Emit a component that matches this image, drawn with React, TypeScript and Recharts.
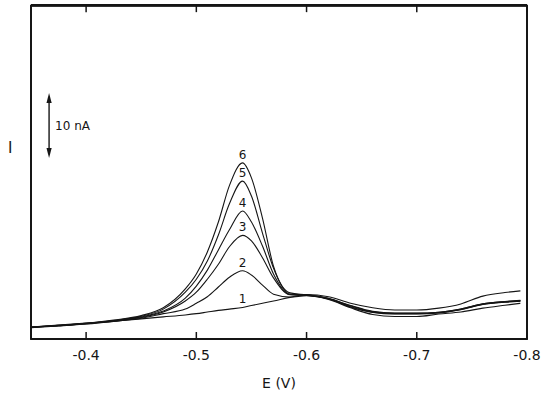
import React from "react";
import { LineChart, Line, XAxis, YAxis, ReferenceLine, ReferenceArea, ReferenceDot, CartesianGrid, Label } from "recharts";

// Potential (V) sample points
const potentials = [
  -0.35, -0.375, -0.4, -0.425, -0.45, -0.47, -0.49, -0.5, -0.51, -0.52, -0.53, -0.542, -0.55, -0.56,
  -0.57, -0.585, -0.6, -0.62, -0.64, -0.66, -0.68, -0.7, -0.72, -0.74, -0.76, -0.78, -0.794,
];

// Currents (nA, relative to plot floor) for curves 1..6
const curve1 = [
  1.85, 2.15, 2.45, 2.75, 3.1, 3.4, 3.7, 3.9, 4.15, 4.4, 4.6, 4.85, 5.15, 5.5, 5.85, 6.4, 6.85, 6.5, 5.5,
  4.8, 4.46, 4.46, 4.75, 5.4, 6.6, 7.15, 7.4,
];
const curve2 = [
  1.8, 2.05, 2.35, 2.7, 3.2, 3.9, 4.6, 5.5, 6.5, 8.0, 9.5, 10.5, 9.85, 8.3, 6.9, 6.46, 6.65, 6.1, 4.8,
  3.77, 3.46, 3.46, 3.85, 4.15, 4.75, 5.2, 5.5,
];
const curve3 = [
  1.75, 2.0, 2.3, 2.75, 3.3, 4.15, 5.85, 7.2, 9.2, 11.5, 14.2, 15.95, 15.1, 12.5, 9.4, 6.8, 6.7, 6.15,
  4.9, 4.1, 3.85, 3.85, 4.0, 4.5, 5.3, 5.65, 5.8,
];
const curve4 = [
  1.8, 2.05, 2.35, 2.8, 3.4, 4.3, 6.3, 8.15, 10.6, 13.7, 16.8, 19.7, 18.0, 14.3, 10.0, 6.85, 6.75, 6.2,
  4.95, 4.12, 3.88, 3.88, 4.05, 4.55, 5.35, 5.7, 5.85,
];
const curve5 = [
  1.8, 2.1, 2.4, 2.85, 3.5, 4.6, 7.2, 9.2, 12.0, 16.0, 20.8, 24.3, 22.0, 16.3, 10.9, 6.9, 6.8, 6.22,
  5.1, 4.2, 3.95, 3.95, 4.1, 4.6, 5.4, 5.75, 5.9,
];
const curve6 = [
  1.85, 2.1, 2.4, 2.9, 3.6, 4.8, 7.7, 10.0, 13.4, 18.0, 23.6, 27.1, 24.8, 18.6, 11.2, 7.1, 6.8, 6.25,
  5.15, 4.25, 3.98, 3.98, 4.12, 4.62, 5.42, 5.78, 5.95,
];

const curveLabels = ["1", "2", "3", "4", "5", "6"];
const xTicks = [-0.4, -0.5, -0.6, -0.7, -0.8];
const xDomain = [-0.8, -0.35];
const yDomain = [0, 51.4];
const frameTop = 51.3; // just inside the domain top
const topTickLength = 1.0; // nA units, matches bottom tick length
const peakPotential = -0.542;
const scaleBarPotential = -0.3664;
const scaleBarLow = 27.85;
const scaleBarHigh = 37.85;
const scaleBarText = "10 nA";

const curves = [curve1, curve2, curve3, curve4, curve5, curve6];
const data = potentials.map((E, i) => {
  const row: Record<string, number> = { E };
  curves.forEach((c, k) => {
    row["c" + (k + 1)] = c[i];
  });
  return row;
});
const peakIndex = potentials.indexOf(peakPotential);

const INK = "#151515";
const FONT = "'DejaVu Sans', sans-serif";

const ArrowShape = (p: any) => {
  const x = p.x1;
  const top = Math.min(p.y1, p.y2);
  const bot = Math.max(p.y1, p.y2);
  const head = 10;
  const hw = 2.6;
  return (
    <g>
      <line x1={x} y1={top + head - 1} x2={x} y2={bot - head + 1} stroke={INK} strokeWidth={1.4} />
      <polygon points={`${x},${top} ${x - hw},${top + head} ${x + hw},${top + head}`} fill={INK} />
      <polygon points={`${x},${bot} ${x - hw},${bot - head} ${x + hw},${bot - head}`} fill={INK} />
    </g>
  );
};

export default function App() {
  return (
    <div style={{ position: "absolute", left: 0, top: 0 }}>
      <LineChart
        width={550}
        height={401}
        data={data}
        margin={{ top: 5, right: 22, bottom: 0, left: 0 }}
      >
        <CartesianGrid
          xAxisId="bottom"
          yAxisId="right"
          vertical={false}
          horizontal
          stroke={INK}
          strokeWidth={1.8}
          strokeDasharray="0"
        />
        <XAxis
          xAxisId="bottom"
          dataKey="E"
          type="number"
          domain={xDomain}
          allowDataOverflow
          reversed
          ticks={xTicks}
          orientation="bottom"
          height={62}
          tickSize={-7}
          tickMargin={18}
          axisLine={{ stroke: INK, strokeWidth: 1.8 }}
          tickLine={{ stroke: INK, strokeWidth: 1.5 }}
          tick={{ fontSize: 14, fill: INK, fontFamily: FONT }}
          tickFormatter={(v: number) => String(v)}
          label={{ value: "E (V)", position: "insideBottom", offset: 13, fontSize: 14, fill: INK, fontFamily: FONT }}
        />
        <YAxis
          yAxisId="left"
          type="number"
          domain={yDomain}
          allowDataOverflow
          width={31}
          tickLine={false}
          tickFormatter={() => ""}
          axisLine={{ stroke: INK, strokeWidth: 1.8 }}
          label={{ value: "I", position: "insideLeft", offset: 8, dy: -24, fontSize: 15, fill: INK, fontFamily: FONT }}
        />
        <YAxis
          yAxisId="right"
          orientation="right"
          type="number"
          domain={yDomain}
          allowDataOverflow
          ticks={[frameTop]}
          width={1}
          tickLine={false}
          tickFormatter={() => ""}
          axisLine={{ stroke: INK, strokeWidth: 1.8 }}
        />
        <ReferenceArea
          xAxisId="bottom"
          yAxisId="left"
          x1={xDomain[1]}
          x2={xDomain[0]}
          y1={yDomain[0]}
          y2={frameTop}
          fill="none"
          fillOpacity={0}
          stroke={INK}
          strokeWidth={1.8}
        />
        <ReferenceLine xAxisId="bottom" yAxisId="left" y={frameTop} stroke={INK} strokeWidth={1.8} />
        {xTicks.map((t) => (
          <ReferenceLine
            key={"tt" + t}
            xAxisId="bottom"
            yAxisId="left"
            segment={[
              { x: t, y: frameTop },
              { x: t, y: frameTop - topTickLength },
            ]}
            stroke={INK}
            strokeWidth={1.5}
          />
        ))}
        {curveLabels.map((name, k) => (
          <Line
            key={name}
            xAxisId="bottom"
            yAxisId="left"
            dataKey={"c" + (k + 1)}
            type="monotone"
            stroke={INK}
            strokeWidth={1.1}
            dot={false}
            activeDot={false}
            isAnimationActive={false}
          />
        ))}
        {curveLabels.map((name, k) => (
          <ReferenceDot
            key={"lbl" + name}
            xAxisId="bottom"
            yAxisId="left"
            x={peakPotential}
            y={curves[k][peakIndex]}
            r={0}
            fill="none"
            stroke="none"
            label={{ value: name, position: "top", offset: 4, fontSize: 12, fill: INK, fontFamily: FONT }}
          />
        ))}
        <ReferenceLine
          xAxisId="bottom"
          yAxisId="left"
          segment={[
            { x: scaleBarPotential, y: scaleBarLow },
            { x: scaleBarPotential, y: scaleBarHigh },
          ]}
          shape={ArrowShape}
          label={{ value: scaleBarText, position: "right", offset: 6, fontSize: 12, fill: INK, fontFamily: FONT }}
        />
      </LineChart>
    </div>
  );
}
